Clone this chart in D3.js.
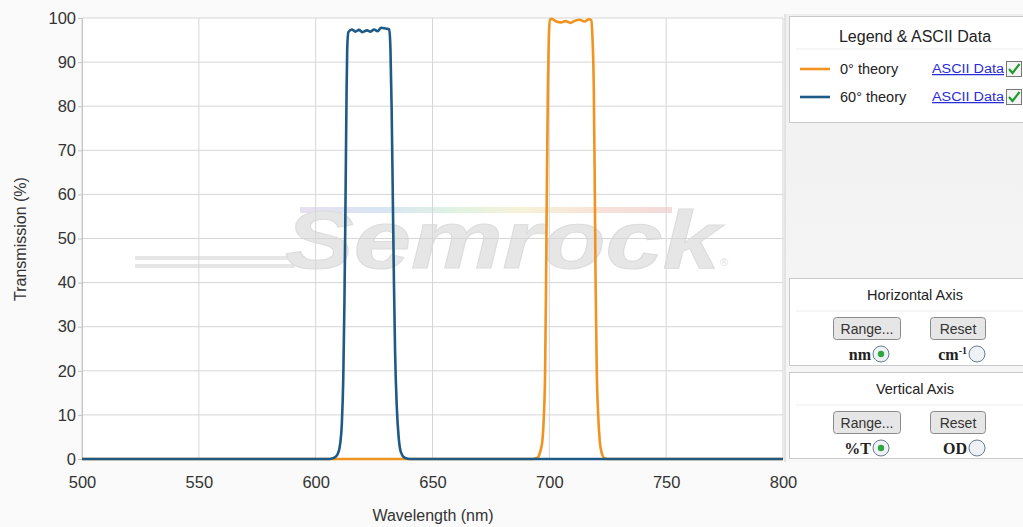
<!DOCTYPE html>
<html>
<head>
<script src="https://cdn.jsdelivr.net/npm/d3@7"></script>
<style type="text/css">
  body { margin: 0; background: #fafafa; }
  svg { display: block; font-family: 'Liberation Sans', Arial, sans-serif; }
</style>
</head>
<body>
<script type="text/javascript">

// wavelength (nm) / transmission (%)
var theory0 = [
  [500,0],[693,0],[695,0.3],[696,1.5],[697,4],[697.6,9],[698.2,20],[698.6,40],[699,65],[699.4,85],
  [699.8,96],[700.3,99.6],[701,99.8],[703,99.2],[705,99.0],[707,99.3],[709,98.9],[711,99.4],
  [713,99.6],[715,99.2],[717,99.7],[718,99.5],[718.5,95],[719,85],[719.4,65],[719.8,40],
  [720.3,20],[720.9,10],[721.6,4],[722.5,1.2],[723.5,0.2],[725,0],[800,0]
];
var theory60 = [
  [500,0],[606,0],[608,0.3],[609.5,1.2],[610.5,3.5],[611.2,8],[611.8,18],[612.3,35],[612.8,60],
  [613.2,82],[613.5,93],[614,96.8],[615.5,97.4],[617,96.9],[618.5,97.3],[620,96.8],[622,97.2],
  [623.5,96.9],[625,97.4],[626.5,97.0],[628,97.8],[630,97.6],[631.5,97.4],[632,93],[632.5,80],
  [633,60],[633.5,40],[634,24],[634.7,12],[635.5,5],[636.5,1.5],[638,0.3],[640,0],[800,0]
];
var seriesNames = ["0° theory", "60° theory"];
var seriesColors = ["#f0941f", "#1e5a86"];
var xTicks = [500, 550, 600, 650, 700, 750, 800];
var yTicks = [0, 10, 20, 30, 40, 50, 60, 70, 80, 90, 100];

var W = 1023, H = 527;
var svg = d3.select("body").append("svg").attr("width", W).attr("height", H);

var x = d3.scaleLinear().domain([500, 800]).range([82, 783]);
var y = d3.scaleLinear().domain([0, 100]).range([459, 18]);

// plot background
svg.append("rect").attr("x", 82).attr("y", 18).attr("width", 701).attr("height", 441).attr("fill", "#fff");

// watermark
var wm = svg.append("g");
var grad = svg.append("defs").append("linearGradient").attr("id", "rainbow");
["#e8e0f0", "#d8e4f4", "#dff2e4", "#f6f2d8", "#f8e2d8", "#f4dada"].forEach(function(c, i, a) {
  grad.append("stop").attr("offset", (i / (a.length - 1) * 100) + "%").attr("stop-color", c);
});
wm.append("rect").attr("x", 300).attr("y", 207).attr("width", 372).attr("height", 6).attr("fill", "url(#rainbow)");
wm.append("rect").attr("x", 135).attr("y", 256).attr("width", 170).attr("height", 4).attr("fill", "#e6e6e6");
wm.append("rect").attr("x", 135).attr("y", 264).attr("width", 160).attr("height", 4).attr("fill", "#e6e6e6");
wm.append("text").attr("x", 285).attr("y", 268)
  .attr("font-size", 82).attr("font-weight", "bold").attr("font-style", "italic")
  .attr("textLength", 435).attr("lengthAdjust", "spacingAndGlyphs")
  .attr("fill", "#e6e6e6").attr("stroke", "#dcdcdc").attr("stroke-width", 1).text("Semrock");
wm.append("text").attr("x", 720).attr("y", 266).attr("font-size", 11).attr("fill", "#e2e2e2").text("®");

// grid
svg.append("g").selectAll("line").data(xTicks).enter().append("line")
  .attr("x1", function(d) { return x(d); }).attr("x2", function(d) { return x(d); })
  .attr("y1", y(100)).attr("y2", y(0))
  .attr("stroke", "#d6d6d6");
svg.append("g").selectAll("line").data(yTicks).enter().append("line")
  .attr("x1", x(500)).attr("x2", x(800))
  .attr("y1", function(d) { return y(d); }).attr("y2", function(d) { return y(d); })
  .attr("stroke", "#d6d6d6");

// axes
var yAxis = svg.append("g").attr("transform", "translate(82,0)")
  .call(d3.axisLeft(y).tickValues(yTicks).tickSize(4).tickPadding(2));
var xAxis = svg.append("g").attr("transform", "translate(0,459)")
  .call(d3.axisBottom(x).tickValues(xTicks).tickSize(0).tickPadding(17));
[xAxis, yAxis].forEach(function(a) {
  a.select(".domain").attr("stroke", "#c4c4c4");
  a.selectAll(".tick line").attr("stroke", "#c4c4c4");
  a.selectAll("text").attr("font-size", 16.5).attr("fill", "#333")
    .attr("font-family", "'Liberation Sans', Arial, sans-serif");
});
xAxis.select(".domain").remove();

svg.append("text").attr("transform", "translate(26,239) rotate(-90)")
  .attr("text-anchor", "middle").attr("font-size", 16).attr("fill", "#333").text("Transmission (%)");
svg.append("text").attr("x", 433).attr("y", 521)
  .attr("text-anchor", "middle").attr("font-size", 16).attr("fill", "#333").text("Wavelength (nm)");

// curves
var line = d3.line()
  .x(function(d) { return x(d[0]); })
  .y(function(d) { return y(d[1]); })
  .curve(d3.curveMonotoneX);
[theory0, theory60].forEach(function(s, i) {
  svg.append("path").datum(s).attr("d", line)
    .attr("fill", "none").attr("stroke", seriesColors[i]).attr("stroke-width", 2.6);
});

// right side panel
var pg = svg.append("defs").append("linearGradient").attr("id", "panel")
  .attr("x1", 0).attr("y1", 0).attr("x2", 0).attr("y2", 1);
pg.append("stop").attr("offset", "0%").attr("stop-color", "#f0f0f0");
pg.append("stop").attr("offset", "100%").attr("stop-color", "#f7f7f7");
svg.append("rect").attr("x", 785).attr("y", 14).attr("width", 240).attr("height", 448).attr("fill", "url(#panel)");
svg.append("line").attr("x1", 785).attr("x2", 785).attr("y1", 14).attr("y2", 462).attr("stroke", "#cfcfcf");

function box(y0, h, title) {
  var g = svg.append("g");
  g.append("rect").attr("x", 789.5).attr("y", y0 + 0.5).attr("width", 240).attr("height", h)
    .attr("fill", "#fff").attr("stroke", "#c9c9c9");
  g.append("text").attr("x", 915).attr("y", y0 + title.dy).attr("text-anchor", "middle")
    .attr("font-size", title.size).attr("fill", "#222").text(title.text);
  g.append("line").attr("x1", 796).attr("x2", 1023).attr("y1", y0 + 33).attr("y2", y0 + 33)
    .attr("stroke", "#eeeeee");
  return g;
}

var leg = box(16, 106, { text: "Legend & ASCII Data", size: 16, dy: 26 });
seriesNames.forEach(function(n, i) {
  var yy = 69 + i * 28;
  leg.append("line").attr("x1", 800).attr("x2", 830).attr("y1", yy).attr("y2", yy)
    .attr("stroke", seriesColors[i]).attr("stroke-width", 2.6);
  leg.append("text").attr("x", 840).attr("y", yy + 5).attr("font-size", 14.5)
    .attr("fill", "#222").text(n);
  leg.append("text").attr("x", 932).attr("y", yy + 4).attr("font-size", 12.5)
    .attr("textLength", 72).attr("lengthAdjust", "spacingAndGlyphs")
    .attr("fill", "#2b2bd6").attr("text-decoration", "underline").text("ASCII Data");
  leg.append("rect").attr("x", 1006.5).attr("y", yy - 7.5).attr("width", 15).attr("height", 15)
    .attr("fill", "#f4f4f4").attr("stroke", "#777");
  leg.append("path").attr("d", "M1009," + (yy) + " l3.5,4 l7,-9")
    .attr("fill", "none").attr("stroke", "#1f9a2e").attr("stroke-width", 2.2);
});

function controls(g, y0, left, right) {
  [[833, 67, "Range..."], [930, 55, "Reset"]].forEach(function(b) {
    g.append("rect").attr("x", b[0] + 0.5).attr("y", y0 + 0.5).attr("width", b[1]).attr("height", 22)
      .attr("rx", 3).attr("fill", "#e6e6e6").attr("stroke", "#8a8a8a");
    g.append("text").attr("x", b[0] + b[1] / 2 + 0.5).attr("y", y0 + 16.5).attr("text-anchor", "middle")
      .attr("font-size", 14).attr("fill", "#333").text(b[2]);
  });
  [[left, 881, true], [right, 977, false]].forEach(function(r) {
    var t = g.append("text").attr("x", r[1] - 10).attr("y", y0 + 43).attr("text-anchor", "end")
      .attr("font-family", "'Liberation Serif', 'Times New Roman', serif")
      .attr("font-weight", "bold").attr("font-size", 16).attr("fill", "#222");
    if (r[0] === "cm-1") {
      t.append("tspan").text("cm");
      t.append("tspan").attr("font-size", 10).attr("dy", -6).text("-1");
    } else {
      t.text(r[0]);
    }
    g.append("circle").attr("cx", r[1]).attr("cy", y0 + 37).attr("r", 8)
      .attr("fill", "#eef2f6").attr("stroke", "#6a7c8c");
    if (r[2]) g.append("circle").attr("cx", r[1]).attr("cy", y0 + 37).attr("r", 3.2).attr("fill", "#2ea83c");
  });
}

var hbox = box(278, 87, { text: "Horizontal Axis", size: 14.5, dy: 22 });
controls(hbox, 317, "nm", "cm-1");
var vbox = box(372, 86, { text: "Vertical  Axis", size: 14.5, dy: 22 });
controls(vbox, 411, "%T", "OD");

</script>
</body>
</html>
